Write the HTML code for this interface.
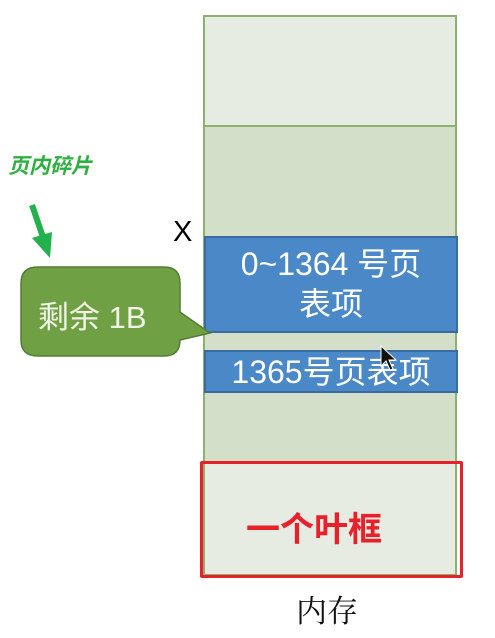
<!DOCTYPE html>
<html><head><meta charset="utf-8"><style>
body{margin:0;width:495px;height:638px;background:#fff;position:relative;overflow:hidden;font-family:"Liberation Sans","Noto Sans CJK SC",sans-serif}
.a{position:absolute;box-sizing:border-box}
</style></head><body>
<div class="a" style="left:203px;top:15px;width:254px;height:561px;background:#d3dfc8;border:2px solid #8cb070"></div>
<div class="a" style="left:205px;top:17px;width:250px;height:110px;background:#e7ece3;border-bottom:2px solid #8cb070"></div>
<div class="a" style="left:205px;top:463px;width:250px;height:111px;background:#e7ece3"></div>
<div class="a" style="left:204px;top:236px;width:254px;height:97px;background:#4a88c8;border:2px solid #3a6aa0;color:#fff;font-size:32px;text-align:center;line-height:40px;padding-top:6px">0~1364 号页<br>表项</div>
<div class="a" style="left:204px;top:350px;width:254px;height:43px;background:#4a88c8;border:2px solid #3a6aa0;color:#fff;font-size:32px;text-align:center;line-height:40px;white-space:nowrap">1365号页表项</div>
<div class="a" style="left:200px;top:461px;width:263px;height:117px;border:3px solid #e8202a;border-radius:2px"></div>
<div class="a" style="left:246px;top:502px;font-size:34px;font-weight:bold;color:#e8202a">一个叶框</div>
<div class="a" style="left:296px;top:586px;font-size:31px;color:#111;font-family:'Noto Serif CJK SC',serif">内存</div>
<div class="a" style="left:173px;top:216px;font-size:29px;color:#000">X</div>
<div class="a" style="left:8px;top:150px;font-size:21px;font-weight:bold;font-style:italic;color:#2db040">页内碎片</div>
<svg class="a" style="left:0;top:0" width="495" height="638">
<line x1="32" y1="205" x2="45" y2="243" stroke="#22b14c" stroke-width="6"/>
<polygon points="32,238 50,258 52,232" fill="#22b14c"/>
<path d="M38,267 H164 Q180,267 180,283 V312 L210,333 L180,340 Q180,356 164,356 H38 Q21,356 21,340 V283 Q21,267 38,267Z" fill="#70a044" stroke="#557c35" stroke-width="1.5"/>
<path d="M381,346 L381,366 L386,361 L390,370 L393,369 L389,360 L396,360Z" fill="#111" stroke="#fff" stroke-width="1"/>
</svg>
<div class="a" style="left:38px;top:292px;font-size:31px;color:#f0f5e8">剩余 1B</div>
</body></html>
